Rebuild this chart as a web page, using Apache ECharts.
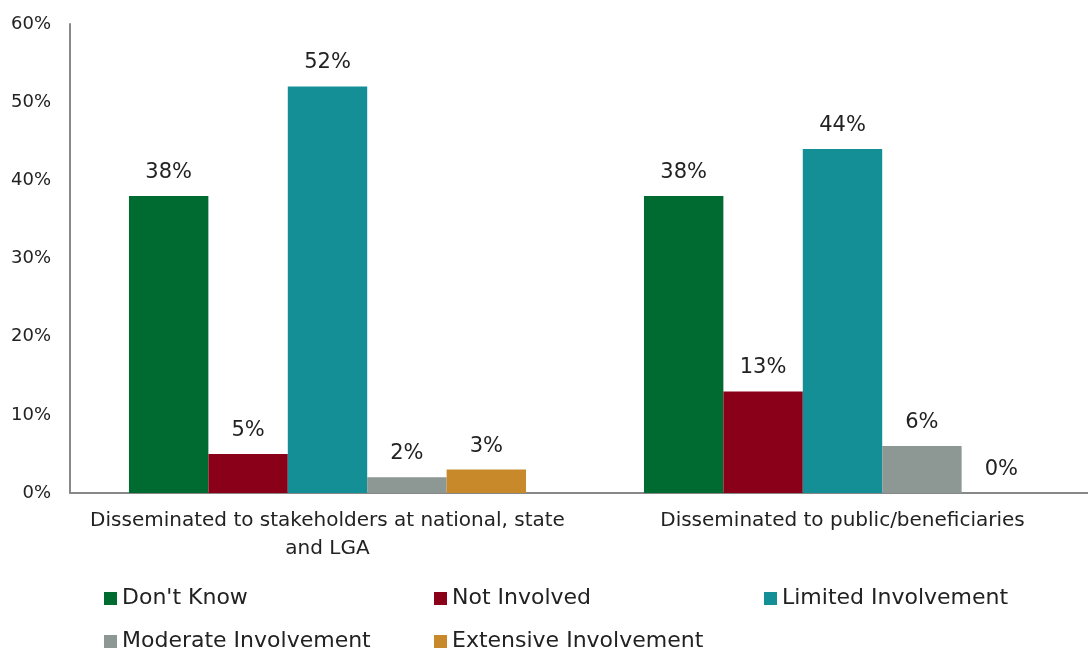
<!DOCTYPE html>
<html><head><meta charset="utf-8">
<script src="https://cdn.jsdelivr.net/npm/echarts@6/dist/echarts.min.js"></script>
<style>html,body{margin:0;padding:0;background:#fff;overflow:hidden;width:1088px;height:654px}#c{width:1100px;height:654px}</style>
</head><body><div id="c"></div>
<script>
const categories = ["Disseminated to stakeholders at national, state\nand LGA", "Disseminated to public/beneficiaries"];
const seriesNames = ["Don't Know", "Not Involved", "Limited Involvement", "Moderate Involvement", "Extensive Involvement"];
const dontKnow = [38, 38];
const notInvolved = [5, 13];
const limited = [52, 44];
const moderate = [2, 6];
const extensive = [3, 0];
const yTicks = [0, 10, 20, 30, 40, 50, 60];
const colors = ["#006B30", "#8B0019", "#138F95", "#8D9794", "#C8892A"];
const values = [dontKnow, notInvolved, limited, moderate, extensive];
const FONT = "DejaVu Sans";
const chart = echarts.init(document.getElementById('c'));
chart.setOption({
  animation: false,
  textStyle: {fontFamily: FONT},
  grid: {left: 70, right: 0, top: 24, bottom: 161},
  xAxis: {
    type: 'category', data: categories,
    axisLine: {lineStyle: {color: '#888', width: 2}},
    axisTick: {show: false},
    axisLabel: {color: '#222', fontSize: 20, fontFamily: FONT, margin: 14, lineHeight: 28, interval: 0}
  },
  yAxis: {
    type: 'value', min: yTicks[0], max: yTicks[yTicks.length - 1], interval: 10,
    axisLine: {show: true, lineStyle: {color: '#888', width: 2}},
    splitLine: {show: false},
    axisLabel: {color: '#222', fontSize: 18, fontFamily: FONT, margin: 19, formatter: v => v + '%'}
  },
  legend: {
    left: 99, top: 579, width: 1000,
    itemWidth: 13, itemHeight: 13, itemGap: 14,
    icon: 'rect',
    textStyle: {color: '#222', fontSize: 22, fontFamily: FONT, width: 298, lineHeight: 29},
    data: seriesNames
  },
  series: seriesNames.map((n, i) => ({
    name: n, type: 'bar', data: values[i],
    barGap: '0%', barCategoryGap: '22.9%',
    itemStyle: {color: colors[i]},
    label: {show: true, position: 'top', distance: 13, color: '#222', fontSize: 21, fontFamily: FONT, formatter: p => p.value + '%'}
  }))
});
</script></body></html>
